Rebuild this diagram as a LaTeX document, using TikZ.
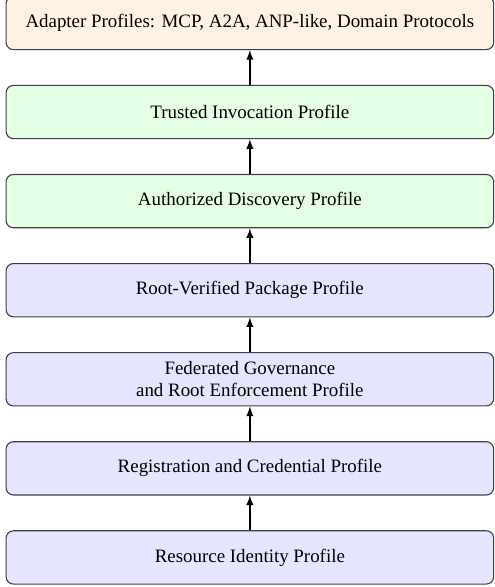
\documentclass[tikz,border=0pt]{standalone}
\usepackage{fontspec}
\setmainfont{Liberation Serif}
\usetikzlibrary{arrows}
\usetikzlibrary{positioning}
\tikzstyle{stack}=[node distance=18.9pt, font=\fontsize{10.3}{11.8}\selectfont]
\tikzstyle{layer}=[rectangle, rounded corners=4pt, draw=black!75, semithick, minimum width=265.5pt, minimum height=29pt, align=center, inner sep=3pt]
\tikzstyle{adapter}=[layer, fill=orange!10]
\tikzstyle{trust}=[layer, fill=green!10]
\tikzstyle{core}=[layer, fill=blue!10]
\tikzstyle{edge}=[->, thick, -latex]

\begin{document}
\begin{tikzpicture}[stack]
			\useasboundingbox (-136.05pt,-16.1pt) rectangle (133.05pt,303.5pt);
			\draw (0,0) node[core] (res) {Resource Identity Profile};
			\node[core, above=of res] (reg) {Registration and Credential Profile};
			\node[core, above=of reg] (fed) {Federated Governance\\and Root Enforcement Profile};
			\node[core, above=of fed] (pkg) {Root-Verified Package Profile};
			\node[trust, above=of pkg] (disc) {Authorized Discovery Profile};
			\node[trust, above=of disc] (inv) {Trusted Invocation Profile};
			\node[adapter, above=of inv] (adp) {Adapter Profiles: MCP, A2A, ANP-like, Domain Protocols};
			\draw[edge] (res) -- (reg);
			\draw[edge] (reg) -- (fed);
			\draw[edge] (fed) -- (pkg);
			\draw[edge] (pkg) -- (disc);
			\draw[edge] (disc) -- (inv);
			\draw[edge] (inv) -- (adp);
		\end{tikzpicture}
\end{document}
